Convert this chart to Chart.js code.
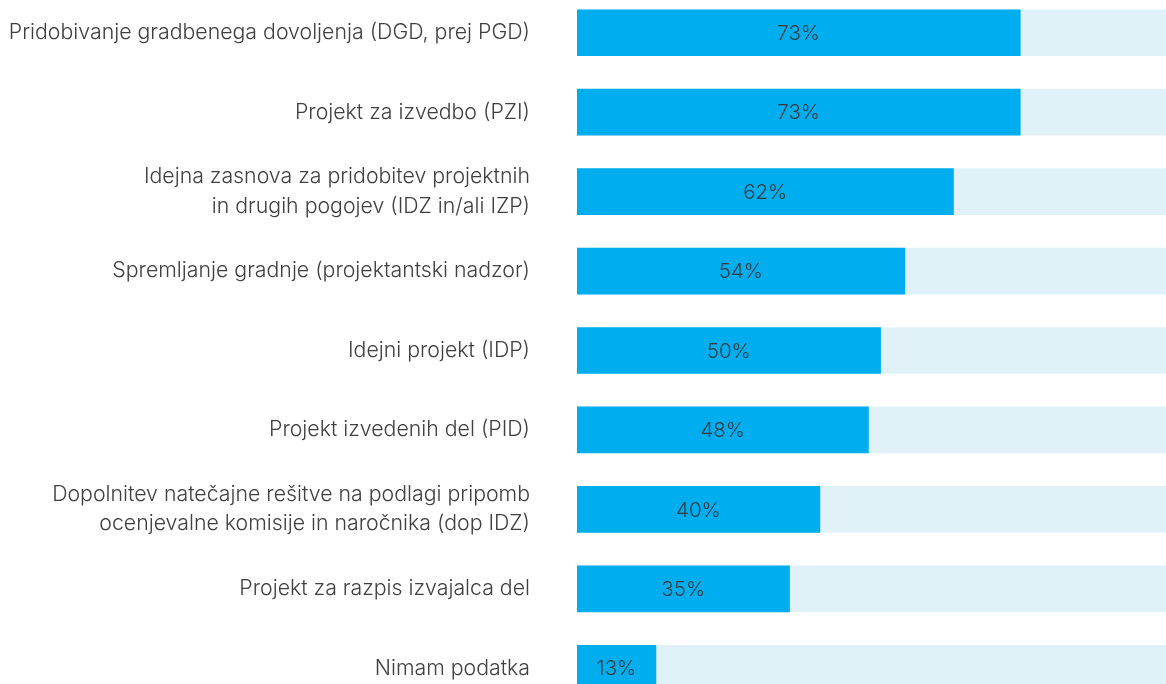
<!DOCTYPE html>
<html lang="sl">
<head>
<meta charset="UTF-8">
<title>Faze projekta</title>
<script src="https://cdn.jsdelivr.net/npm/chart.js@4"></script>
<style>
  html, body { margin: 0; padding: 0; background: #fff; overflow: hidden; }
  #wrap { position: absolute; left: 0; top: -7px; width: 1166px; height: 715px; }
</style>
</head>
<body>
<div id="wrap"><canvas id="chart"></canvas></div>
<script>
// data
const categories = [
  'Pridobivanje gradbenega dovoljenja (DGD, prej PGD)',
  'Projekt za izvedbo (PZI)',
  ['Idejna zasnova za pridobitev projektnih', 'in drugih pogojev (IDZ in/ali IZP)'],
  'Spremljanje gradnje (projektantski nadzor)',
  'Idejni projekt (IDP)',
  'Projekt izvedenih del (PID)',
  ['Dopolnitev natečajne rešitve na podlagi pripomb', 'ocenjevalne komisije in naročnika (dop IDZ)'],
  'Projekt za razpis izvajalca del',
  'Nimam podatka'
];
const values = [73, 73, 62, 54, 50, 48, 40, 35, 13];
const valueLabels = values.map(v => v + '%');

const SCALE_MAX = 97;
const FONT = 'Inter, "Noto Sans", sans-serif';

// labels centered inside the blue bars
const barLabels = {
  id: 'barLabels',
  afterDatasetsDraw(chart) {
    const ctx = chart.ctx;
    const meta = chart.getDatasetMeta(0);
    ctx.save();
    ctx.font = '300 20.5px ' + FONT;
    ctx.fillStyle = '#333a40';
    ctx.textAlign = 'center';
    ctx.textBaseline = 'middle';
    meta.data.forEach((bar, i) => {
      ctx.fillText(valueLabels[i], (bar.base + bar.x) / 2, bar.y + 1);
    });
    ctx.restore();
  }
};

new Chart(document.getElementById('chart'), {
  type: 'bar',
  data: {
    labels: categories,
    datasets: [
      {
        data: values,
        backgroundColor: '#00aeef',
        barThickness: 46,
        grouped: false,
        order: 0
      },
      {
        data: categories.map(() => SCALE_MAX),
        backgroundColor: '#e0f2f7',
        barThickness: 46,
        grouped: false,
        order: 1
      }
    ]
  },
  options: {
    indexAxis: 'y',
    responsive: true,
    maintainAspectRatio: false,
    animation: false,
    layout: { padding: 0 },
    plugins: {
      legend: { display: false },
      tooltip: { enabled: false }
    },
    scales: {
      x: { display: false, min: 0, max: SCALE_MAX },
      y: {
        grid: { display: false, drawTicks: false },
        border: { display: false },
        ticks: {
          padding: 47,
          color: '#404040',
          font: { family: FONT, size: 21.3, weight: 300, lineHeight: 1.38 }
        },
        afterFit(scale) {
          scale.width = 577;
          // tick padding would otherwise push the bars away from top/bottom
          scale.paddingTop = 0;
          scale.paddingBottom = 0;
        }
      }
    }
  },
  plugins: [barLabels]
});
</script>
</body>
</html>
